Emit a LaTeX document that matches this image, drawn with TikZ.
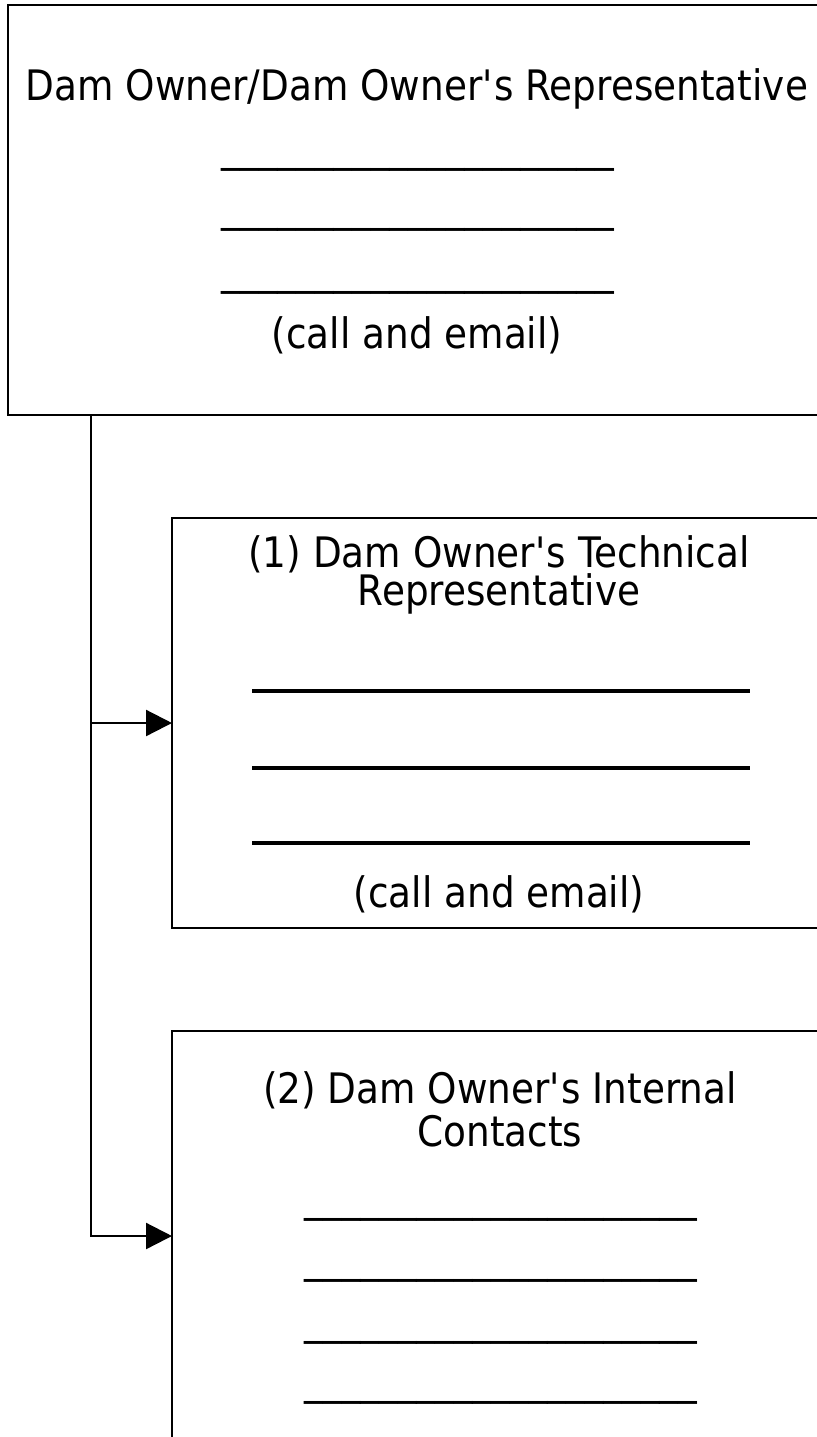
\documentclass[tikz,border=0pt]{standalone}
\usepackage{fontspec}
\setmainfont{DejaVu Sans}[FakeStretch=0.89]
\usetikzlibrary{arrows.meta}
\newcommand{\apos}{\textquotesingle}
\begin{document}
\begin{tikzpicture}[x=0.5pt,y=-0.5pt,
  box/.style={draw=black,line width=1.25pt,fill=white,rectangle,minimum width=327pt,minimum height=205pt,inner sep=0pt,outer sep=0pt},
  txt/.style={anchor=base,inner sep=0pt,font=\fontsize{21pt}{25pt}\selectfont},
  conn/.style={draw=black,line width=1.15pt,-{Triangle[length=13pt,width=13pt]}},
  rule/.style={line width=2pt}]
\clip (0,0) rectangle (817,1437);
\fill[white] (0,0) rectangle (817,1437);
% boxes
\node[box,minimum width=409pt] (top) at (417,210) {};
\node[box] (b1) at (499,723) {};
\node[box] (b2) at (499,1236) {};
% top box texts
\node[txt] (t1) at (417,100) {Dam Owner/Dam Owner\apos s Representative};
\node[txt] (t2) at (418,161) {\_\_\_\_\_\_\_\_\_\_\_\_\_\_\_\_\_\_\_\_\_};
\node[txt] (t3) at (418,221) {\_\_\_\_\_\_\_\_\_\_\_\_\_\_\_\_\_\_\_\_\_};
\node[txt] (t4) at (418,284) {\_\_\_\_\_\_\_\_\_\_\_\_\_\_\_\_\_\_\_\_\_};
\node[txt] (t5) at (417,348) {(call and email)};
% box 1 texts
\node[txt] (u1) at (499,567) {(1) Dam Owner\apos s Technical};
\node[txt] (u2) at (499,605) {Representative};
\draw[rule] (252,691) -- (750,691);
\draw[rule] (252,768) -- (750,768);
\draw[rule] (252,843) -- (750,843);
\node[txt] (u3) at (499,907) {(call and email)};
% box 2 texts
\node[txt] (v1) at (500,1103) {(2) Dam Owner\apos s Internal};
\node[txt] (v2) at (500,1146) {Contacts};
\node[txt] (v3) at (501,1211) {\_\_\_\_\_\_\_\_\_\_\_\_\_\_\_\_\_\_\_\_\_};
\node[txt] (v4) at (501,1272) {\_\_\_\_\_\_\_\_\_\_\_\_\_\_\_\_\_\_\_\_\_};
\node[txt] (v5) at (501,1334) {\_\_\_\_\_\_\_\_\_\_\_\_\_\_\_\_\_\_\_\_\_};
\node[txt] (v6) at (501,1394) {\_\_\_\_\_\_\_\_\_\_\_\_\_\_\_\_\_\_\_\_\_};
% connectors
\coordinate (s) at (91,415);
\draw[conn] (s) |- (b1.west);
\draw[conn] (s) |- (b2.west);
\end{tikzpicture}
\end{document}
